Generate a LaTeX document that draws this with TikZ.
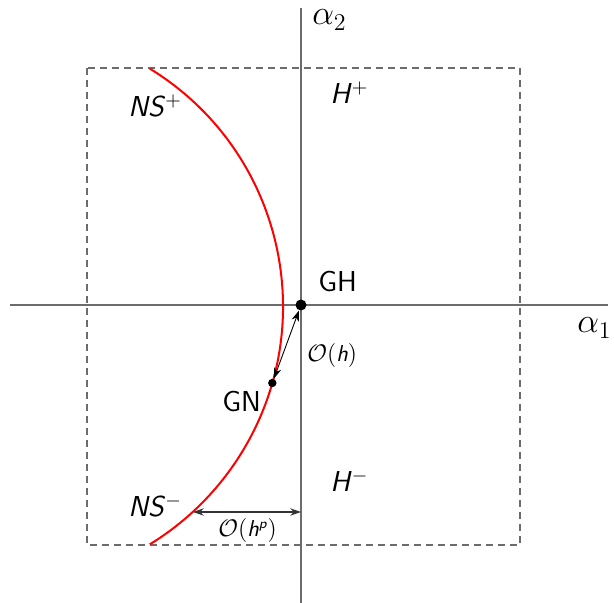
\documentclass[tikz,border=0pt]{standalone}
\usetikzlibrary{arrows.meta}
\tikzset{
  >={Stealth[length=1.9mm,width=1.3mm]},
  axis/.style={draw=gray!85!black,line width=0.75pt},
  frame/.style={draw=gray!85!black,line width=0.55pt,dash pattern=on 3.5pt off 2.5pt},
  front/.style={draw=red,line width=1pt},
  dot/.style={circle,fill=black,inner sep=0pt,minimum size=#1},
  lbl/.style={font=\Large\sffamily,inner sep=0pt,anchor=base west},
  small lbl/.style={font=\fontsize{11.5}{13}\sffamily,inner sep=0pt,anchor=base west},
}
\begin{document}
\begin{tikzpicture}[x=0.5pt,y=0.5pt]
  \useasboundingbox (-301,-298) rectangle (313,305);
  % axes and box
  \draw[axis] (-291,0) -- (307,0);
  \draw[axis] (0,297) -- (0,-298);
  \draw[frame] (-214,237) rectangle (219,-240);
  % neutral stability curve
  \coordinate (ctr) at (-297,-1.5);
  \draw[front] ([shift={(58.5:279)}]ctr) arc[start angle=58.5,end angle=-58.5,radius=279];
  % points
  \node[dot=5.5pt] (gh) at (0,0) {};
  \node[dot=4.2pt] (gn) at (-28.7,-78) {};
  \draw[<->,line width=0.45pt] (gn) -- (gh);
  \coordinate (hpl) at (-108,-207);
  \coordinate (hpr) at (0,-207);
  \draw[<->,line width=0.55pt,black!80] (hpl) -- (hpr);
  % labels
  \node[lbl,font=\LARGE] (ax1) at (276,-28) {$\alpha_1$};
  \node[lbl,font=\LARGE] (ax2) at (11,280) {$\alpha_2$};
  \node[lbl] (nsp) at (-173,188) {\textit{NS}$^+$};
  \node[lbl] (nsm) at (-173,-212) {\textit{NS}$^-$};
  \node[lbl] (hp) at (29,201) {\textit{H}$^+$};
  \node[lbl] (hm) at (29,-187) {\textit{H}$^-$};
  \node[lbl] (ghl) at (17,13) {GH};
  \node[lbl] (gnl) at (-79,-107) {GN};
  \node[small lbl] (oh) at (6,-57) {$\mathcal{O}($\textit{h}$)$};
  \node[small lbl] (ohp) at (-83,-232) {$\mathcal{O}($\textit{h}$^{\textit{\scriptsize p}})$};
\end{tikzpicture}
\end{document}
